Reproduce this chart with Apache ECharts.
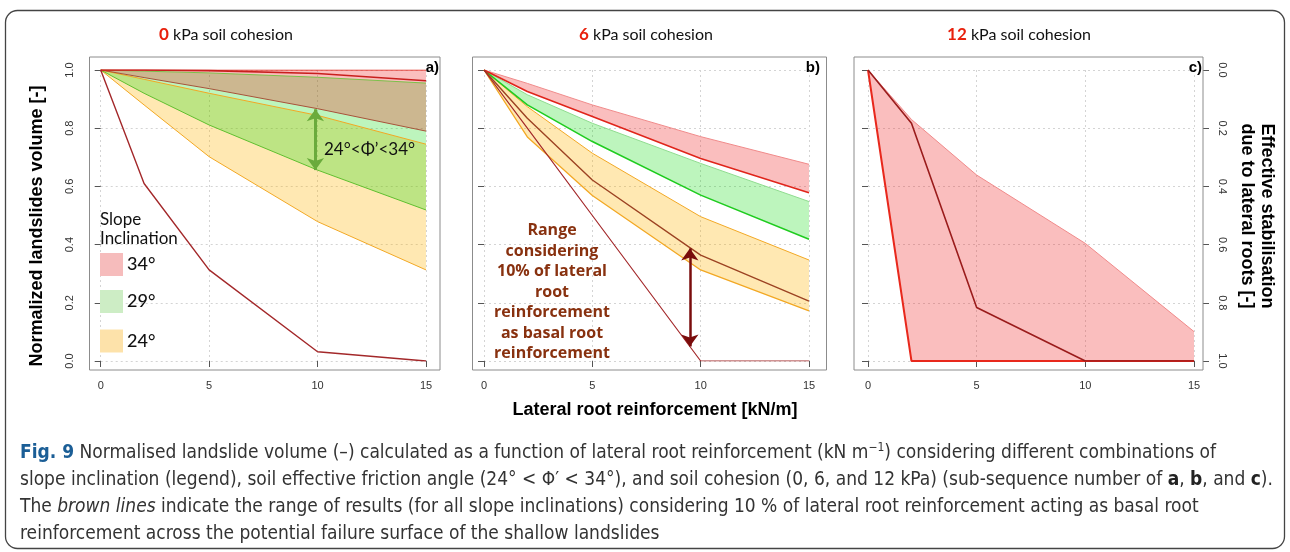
<!DOCTYPE html>
<html><head><meta charset="utf-8">
<script src="https://cdn.jsdelivr.net/npm/echarts@6/dist/echarts.min.js"></script>
<style>html,body{margin:0;padding:0;background:#fff}#c{width:1290px;height:552px}</style>
</head><body><div id="c"></div>
<script>
// ---------- data ----------
const xValues = [0, 2, 5, 10, 15];
const xTickValues = [0, 5, 10, 15];
const yTickValues = [0, 0.2, 0.4, 0.6, 0.8, 1.0];
const cohesions = ['0', '6', '12'];
const panelLetters = ['a)', 'b)', 'c)'];
const legendLabels = ['34°', '29°', '24°'];

// panel a : 0 kPa
const a_red_upper    = [1, 1, 1, 1, 1];
const a_red_lower    = [1, 0.974, 0.936, 0.867, 0.79];
const a_red_line     = [1, 1, 0.998, 0.988, 0.963];
const a_green_upper  = [1, 0.996, 0.99, 0.975, 0.955];
const a_green_lower  = [1, 0.92, 0.811, 0.656, 0.519];
const a_orange_upper = [1, 0.968, 0.92, 0.844, 0.745];
const a_orange_lower = [1, 0.88, 0.702, 0.479, 0.313];
const a_brown_lower  = [1, 0.61, 0.313, 0.032, 0];

// panel b : 6 kPa
const b_red_upper    = [1, 0.954, 0.88, 0.771, 0.676];
const b_red_lower    = [1, 0.926, 0.84, 0.696, 0.578];
const b_green_upper  = [1, 0.915, 0.817, 0.679, 0.548];
const b_green_lower  = [1, 0.88, 0.754, 0.57, 0.418];
const b_orange_upper = [1, 0.874, 0.714, 0.496, 0.347];
const b_orange_lower = [1, 0.77, 0.569, 0.313, 0.172];
const b_brown_upper  = [1, 0.834, 0.622, 0.364, 0.206];
const b_brown_lower  = [1, 0.8, 0.5, 0, 0];

// panel c : 12 kPa
const c_red_upper = [1, 0.83, 0.639, 0.404, 0.101];
const c_red_lower = [1, 0, 0, 0, 0];
const c_brown     = [1, 0.817, 0.184, 0, 0];

// arrows [x, from, to]
const arrowA = [9.9, 0.865, 0.656];
const arrowB = [9.5, 0.387, 0.05];

// ---------- styling ----------
const RED_FILL = 'rgba(240,40,40,0.30)';
const GREEN_FILL = 'rgba(0,215,0,0.26)';
const ORANGE_FILL = 'rgba(255,178,0,0.30)';
const RED = '#e0251b', RED_L = '#f08a8a';
const GREEN = '#1fcc1f', GREEN_L = '#8fdc8f';
const ORANGE = '#f2a824';
const BROWN = '#a3282a', BROWN2 = '#9c4222';

const grids = [
  {left: 100.7, top: 70, width: 325.3, height: 291},
  {left: 484, top: 70, width: 325, height: 291},
  {left: 868, top: 70, width: 326, height: 291}
];
const frames = [
  {x: 89.5, y: 57, w: 350.5, h: 313},
  {x: 472.5, y: 57, w: 354, h: 313},
  {x: 854, y: 57, w: 349, h: 313}
];
const AXFONT = '"Liberation Sans", Arial, sans-serif';

function band(g, upper, lower, fill) {
  return {
    type: 'custom', xAxisIndex: g, yAxisIndex: g, data: [[0, 0]], silent: true, z: 2,
    renderItem: function (params, api) {
      const top = xValues.map((x, i) => api.coord([x, upper[i]]));
      const bot = xValues.map((x, i) => api.coord([x, lower[i]])).reverse();
      return {type: 'polygon', shape: {points: top.concat(bot)}, style: {fill: fill}};
    }
  };
}
function line(g, ys, color, width, extra) {
  return Object.assign({
    type: 'line', xAxisIndex: g, yAxisIndex: g, z: 3, silent: true,
    data: xValues.map((x, i) => [x, ys[i]]), symbol: 'none',
    lineStyle: {color: color, width: width}
  }, extra || {});
}
function arrowMark(arr, color, width, size) {
  return {
    silent: true, symbol: ['arrow', 'arrow'], symbolSize: size,
    label: {show: false}, lineStyle: {color: color, width: width, type: 'solid'},
    emphasis: {disabled: true},
    data: [[{coord: [arr[0], arr[1]]}, {coord: [arr[0], arr[2]]}]]
  };
}

const xAxes = grids.map((g, i) => ({
  type: 'value', gridIndex: i, min: 0, max: 15, interval: 5,
  offset: frames[i].y + frames[i].h - (g.top + g.height),
  axisLine: {show: false},
  axisTick: {show: true, length: 6, lineStyle: {color: '#555'}},
  axisLabel: {fontSize: 11, color: '#333', margin: 10, fontFamily: AXFONT,
    customValues: xTickValues},
  splitLine: {show: true, lineStyle: {color: '#d4d4d4', type: [2, 3], width: 1}}
}));
const yAxes = grids.map((g, i) => ({
  type: 'value', gridIndex: i, min: 0, max: 1, interval: 0.2,
  offset: g.left - frames[i].x,
  axisLine: {show: false},
  axisTick: {show: true, length: 6, lineStyle: {color: '#555'}},
  axisLabel: {show: i === 0, fontSize: 11, color: '#333', rotate: 90, margin: 14,
    fontFamily: AXFONT, formatter: v => v.toFixed(1)},
  splitLine: {show: true, lineStyle: {color: '#d4d4d4', type: [2, 3], width: 1}}
}));
yAxes.push({
  type: 'value', gridIndex: 2, position: 'right', inverse: true, min: 0, max: 1, interval: 0.2,
  offset: frames[2].x + frames[2].w - (grids[2].left + grids[2].width),
  axisLine: {show: false},
  axisTick: {show: true, length: 6, lineStyle: {color: '#555'}},
  axisLabel: {fontSize: 11, color: '#333', rotate: -90, margin: 14, fontFamily: AXFONT,
    formatter: v => v.toFixed(1)},
  splitLine: {show: false}
});

const series = [
  // panel a
  band(0, a_orange_upper, a_orange_lower, ORANGE_FILL),
  band(0, a_green_upper, a_green_lower, GREEN_FILL),
  band(0, a_red_upper, a_red_lower, RED_FILL),
  line(0, a_orange_upper, ORANGE, 1),
  line(0, a_orange_lower, ORANGE, 1),
  line(0, a_green_upper, '#7cc04a', 1),
  line(0, a_green_lower, '#5fbf2f', 1, {markLine: arrowMark(arrowA, '#6aab3c', 3, [13, 12])}),
  line(0, a_red_lower, '#a8523a', 1),
  line(0, a_red_upper, RED, 1.2),
  line(0, a_red_line, '#c8201e', 1.6),
  line(0, a_brown_lower, BROWN, 1.4),
  // panel b
  band(1, b_orange_upper, b_orange_lower, ORANGE_FILL),
  band(1, b_green_upper, b_green_lower, GREEN_FILL),
  band(1, b_red_upper, b_red_lower, RED_FILL),
  line(1, b_orange_upper, ORANGE, 1),
  line(1, b_orange_lower, ORANGE, 1.3),
  line(1, b_green_upper, GREEN_L, 1),
  line(1, b_green_lower, GREEN, 1.6),
  line(1, b_red_upper, RED_L, 1),
  line(1, b_red_lower, RED, 1.6),
  line(1, b_brown_upper, BROWN2, 1.4),
  line(1, b_brown_lower, BROWN, 1.2, {markLine: arrowMark(arrowB, '#7a0c0c', 2.5, [13, 12])}),
  // panel c
  band(2, c_red_upper, c_red_lower, RED_FILL),
  line(2, c_red_upper, RED_L, 1),
  line(2, c_red_lower, '#e8281c', 2),
  line(2, c_brown, '#9a1c1c', 1.6)
];

const CAPFONT = '"Liberation Sans Narrow", "DejaVu Sans Condensed", "Open Sans", sans-serif';
const capRich = {
  fig: {fontWeight: 'bold', fill: '#1b5e96', fontSize: 19, fontFamily: CAPFONT},
  b: {fontWeight: 'bold', fill: '#222', fontSize: 19, fontFamily: CAPFONT},
  i: {fontStyle: 'italic', fill: '#333', fontSize: 19, fontFamily: CAPFONT},
  sup: {fontSize: 12, fill: '#333', fontFamily: CAPFONT, verticalAlign: 'top', lineHeight: 22}
};
const captionLines = [
  '{fig|Fig. 9} Normalised landslide volume (–) calculated as a function of lateral root reinforcement (kN m{sup|−1}) considering different combinations of',
  'slope inclination (legend), soil effective friction angle (24° < Φ′ < 34°), and soil cohesion (0, 6, and 12 kPa) (sub-sequence number of {b|a}, {b|b}, and {b|c}).',
  'The {i|brown lines} indicate the range of results (for all slope inclinations) considering 10 % of lateral root reinforcement acting as basal root',
  'reinforcement across the potential failure surface of the shallow landslides'
];
const captionY = [453, 480, 507, 534];
const titleX = [226, 646, 1019];
const legendY = [264.5, 301.5, 341];
const legendColors = ['#f6bcbc', '#cdedc5', '#fde2aa'];

const graphic = [];
graphic.push({type: 'rect', shape: {x: 5.5, y: 10.5, width: 1279, height: 538, r: 12},
  style: {fill: 'none', stroke: '#444', lineWidth: 1.3}, z: 1});
frames.forEach(f => graphic.push({type: 'rect', shape: {x: f.x, y: f.y, width: f.w, height: f.h},
  style: {fill: 'none', stroke: '#8c8c8c', lineWidth: 1}, z: 50}));
cohesions.forEach((c, i) => graphic.push({type: 'text', x: titleX[i], y: 35, z: 50,
  style: {text: '{r|' + c + '} kPa soil cohesion', align: 'center', verticalAlign: 'middle',
    fill: '#111', font: '16px Lato, "Open Sans", sans-serif',
    rich: {r: {fill: '#e8210d', fontWeight: 'bold', fontSize: 17, fontFamily: 'Lato, sans-serif'}}}}));
const letterX = [439, 820, 1202];
panelLetters.forEach((l, i) => graphic.push({type: 'text', x: letterX[i], y: 68, z: 60,
  style: {text: l, align: 'right', verticalAlign: 'middle', fill: '#000', font: 'bold 15px ' + AXFONT}}));
graphic.push({type: 'text', x: 37, y: 226, rotation: Math.PI / 2, z: 50,
  style: {text: 'Normalized landslides volume [-]', align: 'center', verticalAlign: 'middle',
    fill: '#000', font: 'bold 18px ' + AXFONT}});
graphic.push({type: 'text', x: 1257, y: 216, rotation: -Math.PI / 2, z: 50,
  style: {text: 'Effective stabilisation\ndue to lateral roots [-]', align: 'center', verticalAlign: 'middle',
    fill: '#000', font: 'bold 18px ' + AXFONT, lineHeight: 20}});
graphic.push({type: 'text', x: 655, y: 410, z: 50,
  style: {text: 'Lateral root reinforcement [kN/m]', align: 'center', verticalAlign: 'middle',
    fill: '#000', font: 'bold 18px ' + AXFONT}});
// legend panel a
graphic.push({type: 'text', x: 100, y: 229, z: 50,
  style: {text: 'Slope\nInclination', align: 'left', verticalAlign: 'middle', fill: '#111',
    font: '17px Lato, sans-serif', lineHeight: 19}});
legendLabels.forEach((l, i) => {
  graphic.push({type: 'rect', z: 50, shape: {x: 100, y: legendY[i] - 11.5, width: 23, height: 23},
    style: {fill: legendColors[i]}});
  graphic.push({type: 'text', x: 127, y: legendY[i], z: 50,
    style: {text: l, align: 'left', verticalAlign: 'middle', fill: '#111', font: '500 18px Lato, sans-serif'}});
});
graphic.push({type: 'text', x: 324, y: 150, z: 50,
  style: {text: '24°<Φ’<34°', align: 'left', verticalAlign: 'middle', fill: '#111', font: '17px Lato, sans-serif'}});
graphic.push({type: 'text', x: 552, y: 292, z: 50,
  style: {text: 'Range\nconsidering\n10% of lateral\nroot\nreinforcement\nas basal root\nreinforcement',
    align: 'center', verticalAlign: 'middle', fill: '#88310f', font: 'bold 16px "Open Sans", Lato, sans-serif', lineHeight: 20.5}});
captionLines.forEach((t, i) => graphic.push({type: 'text', x: 20, y: captionY[i], z: 50,
  style: {text: t, align: 'left', verticalAlign: 'middle', fill: '#333', fontSize: 19, fontFamily: CAPFONT,
    lineHeight: 22, rich: capRich}}));

const chart = echarts.init(document.getElementById('c'), null, {renderer: 'canvas'});
chart.setOption({
  animation: false,
  backgroundColor: '#fff',
  grid: grids.map(g => Object.assign({containLabel: false}, g)),
  xAxis: xAxes,
  yAxis: yAxes,
  series: series,
  graphic: graphic
});
</script>
</body></html>
